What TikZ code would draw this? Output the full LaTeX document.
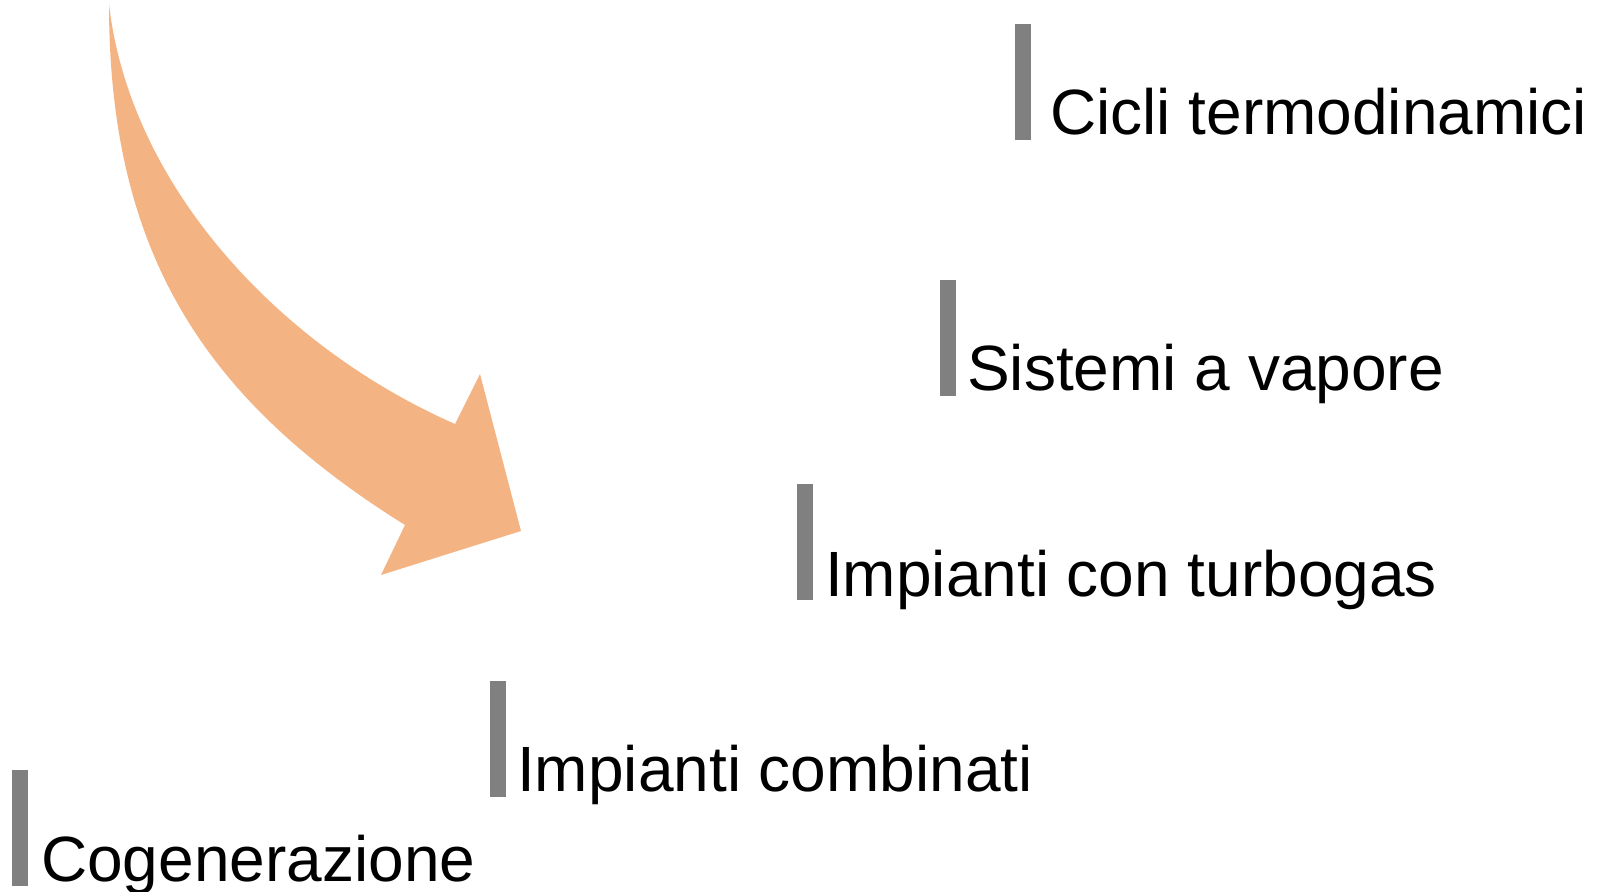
\documentclass[tikz,border=0pt]{standalone}
\usepackage{fontspec}
\setmainfont{Liberation Sans}
\definecolor{arrowfill}{RGB}{244,179,131}
\definecolor{barfill}{RGB}{128,128,128}
\tikzset{
  bar/.style={fill=barfill, draw=none, inner sep=0pt, minimum width=8pt, minimum height=58pt, anchor=north west},
  itemtext/.style={inner sep=0pt, anchor=base west, font=\fontsize{32}{38}\selectfont}
}
\begin{document}
\begin{tikzpicture}[x=0.5pt, y=-0.5pt]
      \useasboundingbox (0,0) rectangle (1597,892);
      \fill[arrowfill] (109,4) .. controls (130,188) and (282,348) .. (455,424)
        -- (480,374) -- (521,531) -- (381,575) -- (405,525)
        .. controls (205,400) and (109,254) .. (109,4) -- cycle;
      \node[bar] (bar1) at (1015,24) {};
      \node[bar] (bar2) at (940,280) {};
      \node[bar] (bar3) at (797,484) {};
      \node[bar] (bar4) at (490,681) {};
      \node[bar] (bar5) at (12,770) {};
      \node[itemtext] (cicli) at ([shift={(18,-6)}]bar1.south east) {Cicli termodinamici};
      \node[itemtext] (vapore) at ([shift={(10,-6)}]bar2.south east) {Sistemi a vapore};
      \node[itemtext] (turbogas) at ([shift={(11,-4)}]bar3.south east) {Impianti con turbogas};
      \node[itemtext] (combinati) at ([shift={(10,-6)}]bar4.south east) {Impianti combinati};
      \node[itemtext] (cogen) at ([shift={(12,-5)}]bar5.south east) {Cogenerazione};
    \end{tikzpicture}
\end{document}
